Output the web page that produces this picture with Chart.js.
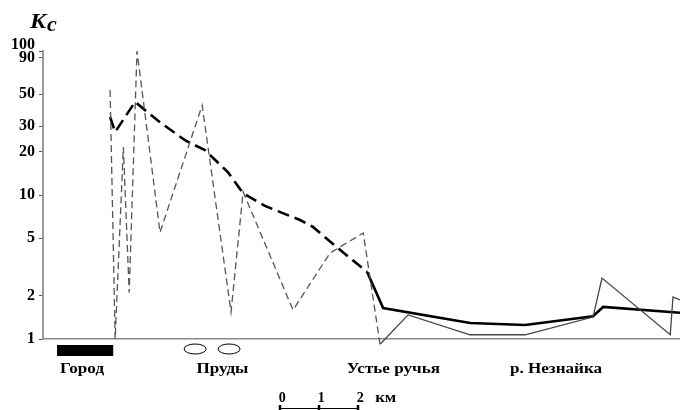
<!DOCTYPE html>
<html>
<head>
<meta charset="utf-8">
<script src="https://cdn.jsdelivr.net/npm/chart.js@4/dist/chart.umd.min.js"></script>
<style>
  html, body { margin: 0; padding: 0; background: #fff; }
  #wrap { width: 680px; height: 410px; position: relative; }
</style>
</head>
<body>
<div id="wrap"><canvas id="chart"></canvas></div>
<script>
// расстояние вдоль реки, км (0 = ось Y)
const kmDetail = [1.72, 1.85, 2.06, 2.21, 2.41, 3.0, 4.08, 4.82, 5.13, 6.41, 7.36, 8.21, 8.64];
const kcDetail = [53.6, 1.0, 21.5, 2.1, 100, 5.5, 42, 1.54, 10.5, 1.59, 3.96, 5.45, 0.92];

const kmRiver = [8.64, 9.36, 10.95, 12.36, 14.1, 14.33, 16.08, 16.15, 16.33];
const kcRiver = [0.92, 1.47, 1.07, 1.07, 1.42, 2.65, 1.07, 1.96, 1.87];

const kmTrend = [1.72, 1.85, 2.36, 3.0, 3.64, 4.15, 4.74, 5.13, 5.69, 6.59, 6.92, 7.62, 8.31];
const kcTrend = [34.8, 27.4, 44.3, 32, 24, 20.5, 14.4, 10.3, 8.4, 6.7, 6.0, 4.15, 2.92];

const kmTrendRiver = [8.31, 8.72, 10.95, 12.36, 14.1, 14.36, 16.33];
const kcTrendRiver = [2.92, 1.64, 1.29, 1.25, 1.44, 1.67, 1.52];

const yTicks = [1, 2, 5, 10, 20, 30, 50, 90, 100];

// подписи под осью: [км, текст]
const places = [[1.0, 'Город'], [4.6, 'Пруды'], [8.98, 'Устье ручья'], [13.15, 'р. Незнайка']];
const cityKm = [0.36, 1.8];
const pondsKm = [3.9, 4.77];
const scaleBarKm = [6.08, 7.08, 8.08];

function pts(xs, ys) {
    return xs.map((x, i) => ({ x: x, y: ys[i] }));
}

const serif = '"Liberation Serif", "DejaVu Serif", serif';

// текст, растянутый по горизонтали
function wideText(ctx, text, x, y, sx) {
    ctx.save();
    ctx.translate(x, y);
    ctx.scale(sx, 1);
    ctx.fillText(text, 0, 0);
    ctx.restore();
}

const extras = {
    id: 'extras',
    afterDraw(chart) {
        const ctx = chart.ctx;
        const xs = chart.scales.x;
        const bottom = chart.chartArea.bottom;
        ctx.save();

        // Kc
        ctx.fillStyle = '#000';
        ctx.textBaseline = 'alphabetic';
        ctx.textAlign = 'left';
        ctx.font = 'italic bold 22px ' + serif;
        wideText(ctx, 'K', 30, 28, 1.1);
        ctx.font = 'italic bold 20px ' + serif;
        wideText(ctx, 'c', 47, 31, 1.1);

        // город
        ctx.fillRect(xs.getPixelForValue(cityKm[0]), bottom + 6, xs.getPixelForValue(cityKm[1]) - xs.getPixelForValue(cityKm[0]), 11);

        // пруды
        ctx.strokeStyle = '#000';
        ctx.lineWidth = 1;
        pondsKm.forEach(k => {
            ctx.beginPath();
            ctx.ellipse(xs.getPixelForValue(k), bottom + 10, 11, 5, 0, 0, Math.PI * 2);
            ctx.stroke();
        });

        // названия
        ctx.font = 'bold 14px ' + serif;
        ctx.textAlign = 'center';
        places.forEach(p => {
            wideText(ctx, p[1], xs.getPixelForValue(p[0]), bottom + 34, 1.22);
        });

        // масштабная линейка
        ctx.font = 'bold 14px ' + serif;
        scaleBarKm.forEach((k, i) => {
            ctx.fillText(String(i), xs.getPixelForValue(k) + 2, 402);
        });
        ctx.textAlign = 'left';
        wideText(ctx, 'км', xs.getPixelForValue(scaleBarKm[2]) + 17, 402, 1.2);
        const x0 = xs.getPixelForValue(scaleBarKm[0]);
        const x2 = xs.getPixelForValue(scaleBarKm[2]);
        ctx.lineWidth = 1;
        ctx.beginPath();
        ctx.moveTo(x0, 408.5);
        ctx.lineTo(x2, 408.5);
        ctx.stroke();
        ctx.lineWidth = 2.5;
        scaleBarKm.forEach(k => {
            const px = Math.round(xs.getPixelForValue(k));
            ctx.beginPath();
            ctx.moveTo(px, 405);
            ctx.lineTo(px, 410);
            ctx.stroke();
        });
        ctx.restore();
    }
};

const ctx = document.getElementById('chart').getContext('2d');
const chart = new Chart(ctx, {
    type: 'line',
    data: {
        datasets: [
            {
                data: pts(kmDetail, kcDetail),
                borderColor: '#555',
                borderWidth: 1.3,
                borderDash: [7, 4],
                pointRadius: 0,
                tension: 0,
                clip: false
            },
            {
                data: pts(kmRiver, kcRiver),
                borderColor: '#444',
                borderWidth: 1.3,
                pointRadius: 0,
                tension: 0,
                clip: false
            },
            {
                data: pts(kmTrend, kcTrend),
                borderColor: '#000',
                borderWidth: 2.6,
                borderDash: [12, 6],
                pointRadius: 0,
                tension: 0,
                clip: false
            },
            {
                data: pts(kmTrendRiver, kcTrendRiver),
                borderColor: '#000',
                borderWidth: 2.6,
                pointRadius: 0,
                tension: 0,
                clip: false
            }
        ]
    },
    options: {
        responsive: true,
        maintainAspectRatio: false,
        animation: false,
        layout: { padding: { top: 51, bottom: 71, left: 0, right: 0 } },
        plugins: {
            legend: { display: false },
            tooltip: { enabled: false }
        },
        scales: {
            x: {
                type: 'linear',
                min: 0,
                max: 16.33,
                grid: { display: false },
                ticks: { display: false },
                border: { display: true, color: '#888', width: 1.5 },
                afterFit(scale) { scale.height = 0; }
            },
            y: {
                type: 'logarithmic',
                min: 1,
                max: 100,
                afterBuildTicks(scale) {
                    scale.ticks = yTicks.map(v => ({ value: v }));
                },
                afterFit(scale) { scale.width = 43; },
                grid: {
                    display: true,
                    drawOnChartArea: false,
                    drawTicks: true,
                    tickLength: 4,
                    color: '#555'
                },
                border: { display: true, color: '#999', width: 2 },
                ticks: {
                    autoSkip: false,
                    padding: 4,
                    color: '#000',
                    font: { family: serif, size: 16, weight: 'bold', lineHeight: 0.8 },
                    // 100 поднимаем над 90
                    callback: v => v === 100 ? ['100', ''] : String(v)
                }
            }
        }
    },
    plugins: [extras]
});
</script>
</body>
</html>
